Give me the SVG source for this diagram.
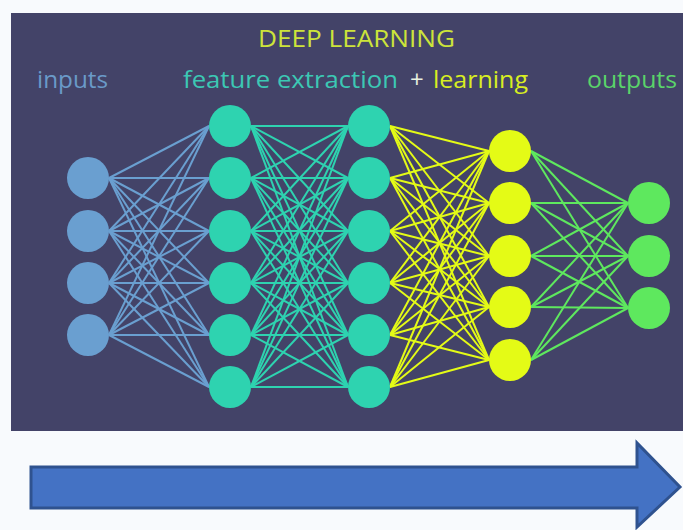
<svg xmlns="http://www.w3.org/2000/svg" width="683" height="530" viewBox="0 0 683 530">
<style>
.lbl{font-family:"Open Sans","Liberation Sans",sans-serif;font-size:24px}
.n1{fill:#6a9fd0}.n2{fill:#2ed3b0}.n4{fill:#e4fb16}.n5{fill:#5ee85e}
.e1 line{stroke:#6a9fd0;stroke-width:2}
.e2 line{stroke:#2ed3b0;stroke-width:2}
.e3 line{stroke:#e4fb16;stroke-width:2}
.e4 line{stroke:#5ee85e;stroke-width:2}
</style>
<rect x="0" y="0" width="683" height="530" fill="#f8fafd"/>
<rect id="panel" x="11" y="13" width="672" height="418" fill="#434368"/>
<g id="texts">
<text class="lbl" x="258" y="47" fill="#cde43a" textLength="197" lengthAdjust="spacingAndGlyphs">DEEP LEARNING</text>
<text class="lbl" x="37" y="88" fill="#6a9ac8" textLength="71" lengthAdjust="spacingAndGlyphs">inputs</text>
<text class="lbl" x="183" y="88" fill="#3cc8b4" textLength="215" lengthAdjust="spacingAndGlyphs">feature extraction</text>
<text class="lbl" x="410" y="88" fill="#e8f0e0">+</text>
<text class="lbl" x="433" y="88" fill="#d8ee22" textLength="95" lengthAdjust="spacingAndGlyphs">learning</text>
<text class="lbl" x="587" y="88" fill="#5ad46a" textLength="90" lengthAdjust="spacingAndGlyphs">outputs</text>
</g>
<g id="connectors">
<g class="e1">
<line x1="109" y1="178" x2="209" y2="126"/><line x1="109" y1="178" x2="209" y2="178"/><line x1="109" y1="178" x2="209" y2="231"/><line x1="109" y1="178" x2="209" y2="283"/><line x1="109" y1="178" x2="209" y2="335"/><line x1="109" y1="178" x2="209" y2="387"/>
<line x1="109" y1="231" x2="209" y2="126"/><line x1="109" y1="231" x2="209" y2="178"/><line x1="109" y1="231" x2="209" y2="231"/><line x1="109" y1="231" x2="209" y2="283"/><line x1="109" y1="231" x2="209" y2="335"/><line x1="109" y1="231" x2="209" y2="387"/>
<line x1="109" y1="283" x2="209" y2="126"/><line x1="109" y1="283" x2="209" y2="178"/><line x1="109" y1="283" x2="209" y2="231"/><line x1="109" y1="283" x2="209" y2="283"/><line x1="109" y1="283" x2="209" y2="335"/><line x1="109" y1="283" x2="209" y2="387"/>
<line x1="109" y1="335" x2="209" y2="126"/><line x1="109" y1="335" x2="209" y2="178"/><line x1="109" y1="335" x2="209" y2="231"/><line x1="109" y1="335" x2="209" y2="283"/><line x1="109" y1="335" x2="209" y2="335"/><line x1="109" y1="335" x2="209" y2="387"/>
</g>
<g class="e2">
<line x1="251" y1="126" x2="348" y2="126"/><line x1="251" y1="126" x2="348" y2="178"/><line x1="251" y1="126" x2="348" y2="231"/><line x1="251" y1="126" x2="348" y2="283"/><line x1="251" y1="126" x2="348" y2="335"/><line x1="251" y1="126" x2="348" y2="387"/>
<line x1="251" y1="178" x2="348" y2="126"/><line x1="251" y1="178" x2="348" y2="178"/><line x1="251" y1="178" x2="348" y2="231"/><line x1="251" y1="178" x2="348" y2="283"/><line x1="251" y1="178" x2="348" y2="335"/><line x1="251" y1="178" x2="348" y2="387"/>
<line x1="251" y1="231" x2="348" y2="126"/><line x1="251" y1="231" x2="348" y2="178"/><line x1="251" y1="231" x2="348" y2="231"/><line x1="251" y1="231" x2="348" y2="283"/><line x1="251" y1="231" x2="348" y2="335"/><line x1="251" y1="231" x2="348" y2="387"/>
<line x1="251" y1="283" x2="348" y2="126"/><line x1="251" y1="283" x2="348" y2="178"/><line x1="251" y1="283" x2="348" y2="231"/><line x1="251" y1="283" x2="348" y2="283"/><line x1="251" y1="283" x2="348" y2="335"/><line x1="251" y1="283" x2="348" y2="387"/>
<line x1="251" y1="335" x2="348" y2="126"/><line x1="251" y1="335" x2="348" y2="178"/><line x1="251" y1="335" x2="348" y2="231"/><line x1="251" y1="335" x2="348" y2="283"/><line x1="251" y1="335" x2="348" y2="335"/><line x1="251" y1="335" x2="348" y2="387"/>
<line x1="251" y1="387" x2="348" y2="126"/><line x1="251" y1="387" x2="348" y2="178"/><line x1="251" y1="387" x2="348" y2="231"/><line x1="251" y1="387" x2="348" y2="283"/><line x1="251" y1="387" x2="348" y2="335"/><line x1="251" y1="387" x2="348" y2="387"/>
</g>
<g class="e3">
<line x1="390" y1="126" x2="489" y2="151"/><line x1="390" y1="126" x2="489" y2="203"/><line x1="390" y1="126" x2="489" y2="256"/><line x1="390" y1="126" x2="489" y2="307"/><line x1="390" y1="126" x2="489" y2="360"/>
<line x1="390" y1="178" x2="489" y2="151"/><line x1="390" y1="178" x2="489" y2="203"/><line x1="390" y1="178" x2="489" y2="256"/><line x1="390" y1="178" x2="489" y2="307"/><line x1="390" y1="178" x2="489" y2="360"/>
<line x1="390" y1="231" x2="489" y2="151"/><line x1="390" y1="231" x2="489" y2="203"/><line x1="390" y1="231" x2="489" y2="256"/><line x1="390" y1="231" x2="489" y2="307"/><line x1="390" y1="231" x2="489" y2="360"/>
<line x1="390" y1="283" x2="489" y2="151"/><line x1="390" y1="283" x2="489" y2="203"/><line x1="390" y1="283" x2="489" y2="256"/><line x1="390" y1="283" x2="489" y2="307"/><line x1="390" y1="283" x2="489" y2="360"/>
<line x1="390" y1="335" x2="489" y2="151"/><line x1="390" y1="335" x2="489" y2="203"/><line x1="390" y1="335" x2="489" y2="256"/><line x1="390" y1="335" x2="489" y2="307"/><line x1="390" y1="335" x2="489" y2="360"/>
<line x1="390" y1="387" x2="489" y2="151"/><line x1="390" y1="387" x2="489" y2="203"/><line x1="390" y1="387" x2="489" y2="256"/><line x1="390" y1="387" x2="489" y2="307"/><line x1="390" y1="387" x2="489" y2="360"/>
</g>
<g class="e4">
<line x1="531" y1="151" x2="628" y2="203"/><line x1="531" y1="151" x2="628" y2="256"/><line x1="531" y1="151" x2="628" y2="308"/>
<line x1="531" y1="203" x2="628" y2="203"/><line x1="531" y1="203" x2="628" y2="256"/><line x1="531" y1="203" x2="628" y2="308"/>
<line x1="531" y1="256" x2="628" y2="203"/><line x1="531" y1="256" x2="628" y2="256"/><line x1="531" y1="256" x2="628" y2="308"/>
<line x1="531" y1="307" x2="628" y2="203"/><line x1="531" y1="307" x2="628" y2="256"/><line x1="531" y1="307" x2="628" y2="308"/>
<line x1="531" y1="360" x2="628" y2="203"/><line x1="531" y1="360" x2="628" y2="256"/><line x1="531" y1="360" x2="628" y2="308"/>
</g>
</g>
<g id="layer-inputs" class="n1">
<circle id="in1" cx="88" cy="178" r="21"/><circle id="in2" cx="88" cy="231" r="21"/><circle id="in3" cx="88" cy="283" r="21"/><circle id="in4" cx="88" cy="335" r="21"/>
</g>
<g id="layer-hidden1" class="n2">
<circle id="h1a" cx="230" cy="126" r="21"/><circle id="h1b" cx="230" cy="178" r="21"/><circle id="h1c" cx="230" cy="231" r="21"/><circle id="h1d" cx="230" cy="283" r="21"/><circle id="h1e" cx="230" cy="335" r="21"/><circle id="h1f" cx="230" cy="387" r="21"/>
</g>
<g id="layer-hidden2" class="n2">
<circle id="h2a" cx="369" cy="126" r="21"/><circle id="h2b" cx="369" cy="178" r="21"/><circle id="h2c" cx="369" cy="231" r="21"/><circle id="h2d" cx="369" cy="283" r="21"/><circle id="h2e" cx="369" cy="335" r="21"/><circle id="h2f" cx="369" cy="387" r="21"/>
</g>
<g id="layer-hidden3" class="n4">
<circle id="h3a" cx="510" cy="151" r="21"/><circle id="h3b" cx="510" cy="203" r="21"/><circle id="h3c" cx="510" cy="256" r="21"/><circle id="h3d" cx="510" cy="307" r="21"/><circle id="h3e" cx="510" cy="360" r="21"/>
</g>
<g id="layer-outputs" class="n5">
<circle id="o1" cx="649" cy="203" r="21"/><circle id="o2" cx="649" cy="256" r="21"/><circle id="o3" cx="649" cy="308" r="21"/>
</g>
<g id="arrow">
<polygon points="31,467 637,467 637,443 680,487 637,527 637,508 31,508" fill="#4472c4" stroke="#2f528f" stroke-width="3"/>
</g>
</svg>
